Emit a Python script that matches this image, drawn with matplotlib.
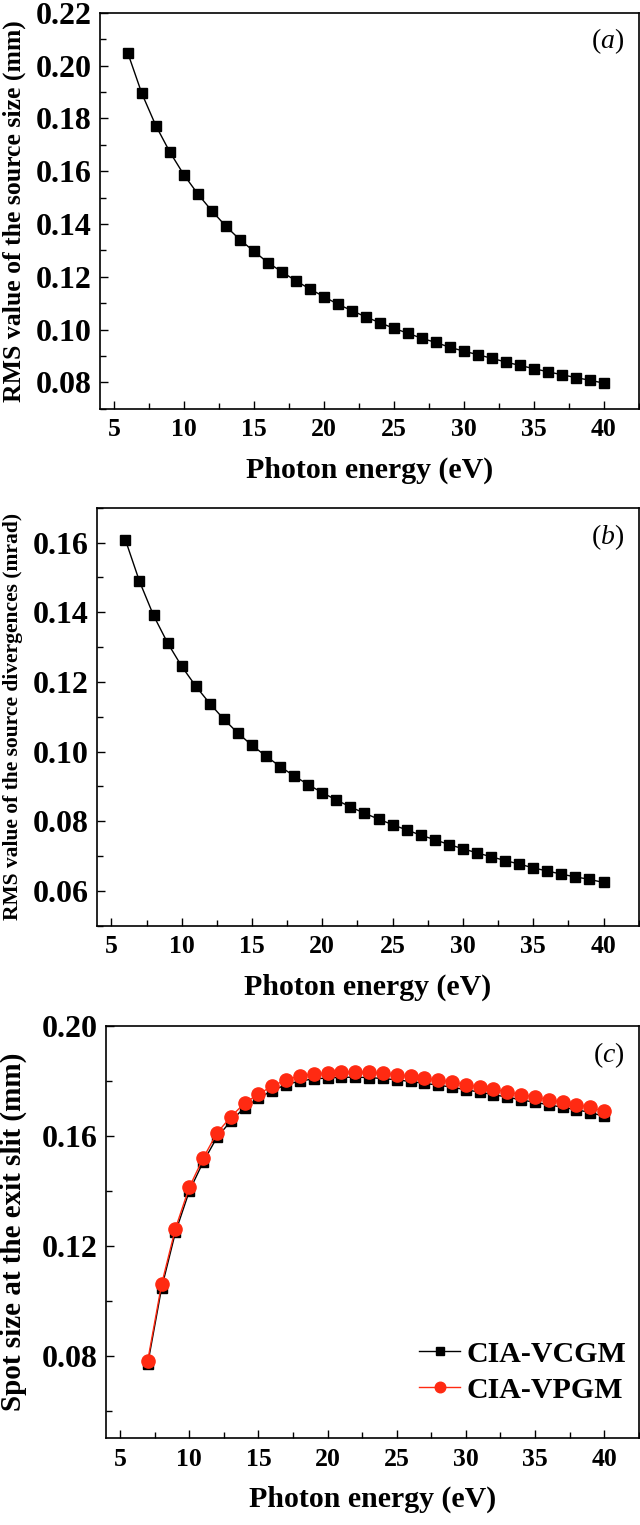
"""
Source size, source divergence and spot size at the exit slit
versus photon energy (three stacked panels).
"""

import matplotlib
matplotlib.use('Agg')
import matplotlib.pyplot as plt
from matplotlib.ticker import MultipleLocator, FormatStrFormatter

# --- datos -----------------------------------------------------------------
energia_ab = [6, 7, 8, 9, 10, 11, 12, 13, 14, 15, 16, 17, 18, 19, 20, 21, 22,
              23, 24, 25, 26, 27, 28, 29, 30, 31, 32, 33, 34, 35, 36, 37, 38,
              39, 40]

rms_size = [0.2048, 0.1895, 0.1773, 0.1673, 0.1587, 0.1514, 0.1450, 0.1392,
            0.1341, 0.1297, 0.1254, 0.1219, 0.1185, 0.1154, 0.1125, 0.1096,
            0.1072, 0.1048, 0.1026, 0.1005, 0.0986, 0.0967, 0.0951, 0.0933,
            0.0918, 0.0905, 0.0891, 0.0877, 0.0864, 0.0852, 0.0840, 0.0829,
            0.0818, 0.0808, 0.0797]

rms_div = [0.1608, 0.1489, 0.1391, 0.1312, 0.1245, 0.1188, 0.1138, 0.1093,
           0.1053, 0.1018, 0.0987, 0.0957, 0.0930, 0.0905, 0.0882, 0.0861,
           0.0841, 0.0823, 0.0806, 0.0790, 0.0775, 0.0760, 0.0747, 0.0733,
           0.0721, 0.0709, 0.0698, 0.0687, 0.0677, 0.0666, 0.0657, 0.0648,
           0.0640, 0.0633, 0.0624]

energia_c = [7, 8, 9, 10, 11, 12, 13, 14, 15, 16, 17, 18, 19, 20, 21, 22, 23,
             24, 25, 26, 27, 28, 29, 30, 31, 32, 33, 34, 35, 36, 37, 38, 39,
             40]

spot_vcgm = [0.0770, 0.1046, 0.1249, 0.1399, 0.1505, 0.1595, 0.1654, 0.1704,
             0.1738, 0.1766, 0.1787, 0.1801, 0.1808, 0.1812, 0.1814, 0.1815,
             0.1813, 0.1810, 0.1805, 0.1799, 0.1792, 0.1786, 0.1778, 0.1769,
             0.1760, 0.1751, 0.1742, 0.1732, 0.1723, 0.1714, 0.1705, 0.1696,
             0.1686, 0.1672]

spot_vpgm = [0.0782, 0.1060, 0.1263, 0.1413, 0.1519, 0.1611, 0.1670, 0.1720,
             0.1753, 0.1782, 0.1805, 0.1819, 0.1826, 0.1830, 0.1833, 0.1834,
             0.1832, 0.1829, 0.1824, 0.1818, 0.1811, 0.1805, 0.1797, 0.1788,
             0.1779, 0.1770, 0.1761, 0.1751, 0.1742, 0.1733, 0.1724, 0.1715,
             0.1705, 0.1690]

# --- estilo ----------------------------------------------------------------
plt.rcParams['font.family'] = 'Liberation Serif'
plt.rcParams['font.weight'] = 'bold'
plt.rcParams['axes.labelweight'] = 'bold'
plt.rcParams['mathtext.fontset'] = 'custom'
plt.rcParams['mathtext.rm'] = 'Liberation Serif:weight=normal'
plt.rcParams['mathtext.it'] = 'Liberation Serif:italic:weight=normal'

ROJO = '#FF2A12'


def formato_ejes(ax, ylim, ymajor, yminor, ylabel, ylabel_size, ylabel_x,
                 letra):
    """
    Da formato a un panel: limites, ticks, etiquetas y letra del panel.
    """

    ax.set_xlim(4, 42.5)
    ax.set_ylim(*ylim)
    ax.xaxis.set_major_locator(MultipleLocator(5))
    ax.xaxis.set_minor_locator(MultipleLocator(2.5))
    ax.yaxis.set_major_locator(MultipleLocator(ymajor))
    ax.yaxis.set_minor_locator(MultipleLocator(yminor))
    ax.yaxis.set_major_formatter(FormatStrFormatter('%.2f'))

    ax.tick_params(which='both', direction='in', top=False, right=False,
                   width=1.0)
    ax.tick_params(which='major', length=6)
    ax.tick_params(which='minor', length=4)
    ax.tick_params(axis='x', labelsize=18.5, pad=7)
    ax.tick_params(axis='y', labelsize=23, pad=6)
    for spine in ax.spines.values():
        spine.set_linewidth(1.2)

    ax.set_xlabel('Photon energy (eV)', fontsize=21.5, labelpad=11)
    ax.set_ylabel(ylabel, fontsize=ylabel_size)
    ax.yaxis.set_label_coords(ylabel_x, 0.5)

    ax.text(0.943, 0.93, r'($\it{' + letra + '}$)', transform=ax.transAxes,
            fontsize=20, fontweight='normal', ha='center', va='center')


fig = plt.figure(figsize=(6.4, 15.25), dpi=100)

# panel (a)
ax1 = fig.add_axes([0.156, 0.732, 0.842, 0.2595])
ax1.plot(energia_ab, rms_size, c='k', lw=1.0, marker='s', ms=7.5)
formato_ejes(ax1, (0.07, 0.22), 0.02, 0.01,
             'RMS value of the source size (mm)', 18.5, -0.137, 'a')

# panel (b)
ax2 = fig.add_axes([0.152, 0.393, 0.846, 0.274])
ax2.plot(energia_ab, rms_div, c='k', lw=1.0, marker='s', ms=7.5)
formato_ejes(ax2, (0.05, 0.17), 0.02, 0.01,
             'RMS value of the source divergences (mrad)', 15.5, -0.137, 'b')

# panel (c)
ax3 = fig.add_axes([0.166, 0.057, 0.832, 0.270])
ax3.plot(energia_c, spot_vcgm, c='k', lw=1.0, marker='s', ms=7.5,
         label='CIA-VCGM')
ax3.plot(energia_c, spot_vpgm, c=ROJO, lw=1.0, marker='o', ms=9.5,
         label='CIA-VPGM')
formato_ejes(ax3, (0.05, 0.20), 0.04, 0.02,
             'Spot size at the exit slit (mm)', 21, -0.149, 'c')
ax3.legend(loc='lower right', bbox_to_anchor=(1.01, 0.04), frameon=False,
           fontsize=21.5, handlelength=1.4, handletextpad=0.2,
           labelspacing=0.3, markerscale=0.8, borderaxespad=0.2)

fig.savefig('out.png', dpi=100)
